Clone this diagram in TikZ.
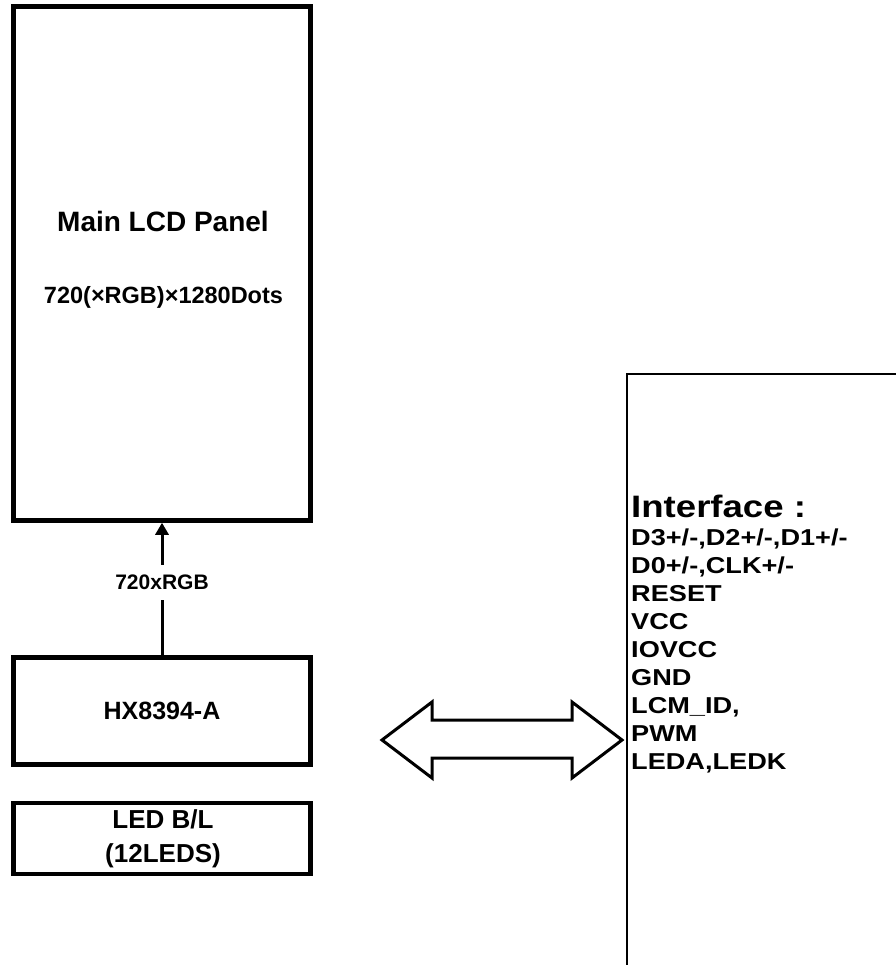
\documentclass[tikz,border=0pt]{standalone}
\usepackage{fontspec}
\setmainfont{Liberation Sans}
\newfontfamily\widefont[FakeStretch=1.18]{Liberation Sans}
\usetikzlibrary{arrows.meta,positioning}

\begin{document}
\begin{tikzpicture}[x=1pt, y=-1pt,
    block/.style={draw, line width=4.5pt, minimum width=297pt, inner sep=0pt},
    lbl/.style={font=\bfseries, inner sep=0pt},
    pin/.style={font=\widefont\bfseries\fontsize{23}{28}\selectfont, align=left, inner sep=0pt}
]
\useasboundingbox (0,0) rectangle (895,965);

% left column
\node[block, minimum height=514pt] (panel) at (162,263.5) {};
\node[lbl, font=\bfseries\fontsize{28}{32}\selectfont, anchor=base] (title) at (163,232) {Main LCD Panel};
\node[lbl, font=\bfseries\fontsize{23.5}{26}\selectfont, anchor=base] (dots) at (163.5,303) {720(×RGB)×1280Dots};

\node[block, minimum height=107pt] (driver) at (162,711) {};
\node[lbl, font=\bfseries\fontsize{25}{28}\selectfont] (drivername) at (driver.center) {HX8394-A};

\node[block, minimum height=71pt] (led) at (162,838.5) {};
\node[lbl, font=\bfseries\fontsize{26}{34}\selectfont, align=center, anchor=base] (ledname) at (163,862) {LED B/L\\(12LEDS)};

\draw[line width=3pt, -{Triangle[width=13pt,length=12pt]}] (driver.north) -- node[lbl, fill=white, inner ysep=10pt, inner xsep=2pt, font=\bfseries\fontsize{21}{24}\selectfont, pos=0.55] (bus) {720xRGB} (panel.south);

% interface side
\node[draw, line width=2pt, minimum width=300pt, minimum height=620pt, anchor=north west] (iface) at (626,373) {};
\node[lbl, font=\widefont\bfseries\fontsize{31}{34}\selectfont, anchor=base west] (ifacetitle) at (631,517) {Interface :};
\node[pin, anchor=base west] (pins) at (631,769) {D3+/-,D2+/-,D1+/-\\D0+/-,CLK+/-\\RESET\\VCC\\IOVCC\\GND\\LCM\_ID,\\PWM\\LEDA,LEDK};

\draw[line width=3pt, line join=miter]
    (382,740) coordinate (tipl) -- (432,702) -- (432,720) -- (572,720) -- (572,702)
    -- (622,740) coordinate (tipr) -- (572,778) -- (572,758) -- (432,758) -- (432,778) -- cycle;
\end{tikzpicture}
\end{document}
